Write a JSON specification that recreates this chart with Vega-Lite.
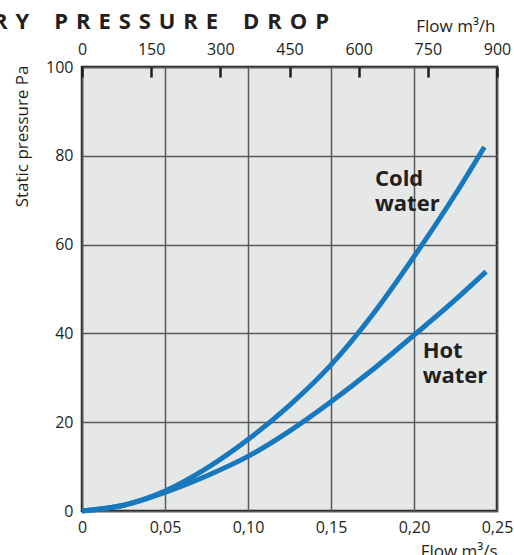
{
  "$schema": "https://vega.github.io/schema/vega-lite/v6.json",
  "width": 415,
  "height": 444,
  "autosize": {"type": "none"},
  "padding": {"left": 82, "top": 67, "right": 17, "bottom": 44},
  "background": "white",
  "config": {
    "font": "Open Sans",
    "view": {"fill": "#e6e7e7", "stroke": "#231f20", "strokeWidth": 2.5}
  },
  "title": {
    "text": "R \u200aY \u200a\u00a0\u00a0\u00a0P \u200aR \u200aE \u200aS \u200aS \u200aU \u200aR \u200aE \u200a\u00a0\u00a0\u00a0D \u200aR \u200aO \u200aP",
    "anchor": "start",
    "frame": "group",
    "dx": -89,
    "dy": 17,
    "offset": 0,
    "fontSize": 22,
    "fontWeight": "bold",
    "color": "#231f20"
  },
  "layer": [
    {
      "layer": [
        {
          "data": {
            "values": [
              {"series": "Cold water", "q": 0, "p": 0},
              {"series": "Cold water", "q": 0.025, "p": 1.3},
              {"series": "Cold water", "q": 0.05, "p": 4.5},
              {"series": "Cold water", "q": 0.075, "p": 9.6},
              {"series": "Cold water", "q": 0.1, "p": 16.1},
              {"series": "Cold water", "q": 0.125, "p": 23.8},
              {"series": "Cold water", "q": 0.15, "p": 32.9},
              {"series": "Cold water", "q": 0.175, "p": 44.2},
              {"series": "Cold water", "q": 0.2, "p": 57.3},
              {"series": "Cold water", "q": 0.225, "p": 71.4},
              {"series": "Cold water", "q": 0.2424, "p": 82},
              {"series": "Hot water", "q": 0, "p": 0},
              {"series": "Hot water", "q": 0.025, "p": 1.3},
              {"series": "Hot water", "q": 0.05, "p": 4.2},
              {"series": "Hot water", "q": 0.075, "p": 7.9},
              {"series": "Hot water", "q": 0.1, "p": 12.3},
              {"series": "Hot water", "q": 0.125, "p": 18.0},
              {"series": "Hot water", "q": 0.15, "p": 24.6},
              {"series": "Hot water", "q": 0.175, "p": 31.8},
              {"series": "Hot water", "q": 0.2, "p": 39.6},
              {"series": "Hot water", "q": 0.225, "p": 47.6},
              {"series": "Hot water", "q": 0.2434, "p": 53.9}
            ]
          },
          "mark": {"type": "line", "strokeWidth": 5, "color": "#1778bd", "interpolate": "monotone", "strokeCap": "butt"},
          "encoding": {
            "x": {
              "field": "q",
              "type": "quantitative",
              "scale": {"domain": [0, 0.25], "nice": false},
              "axis": {
                "orient": "bottom",
                "values": [0, 0.05, 0.1, 0.15, 0.2, 0.25],
                "labelExpr": "datum.value == 0 ? '0' : replace(format(datum.value, '.2f'), '.', ',')",
                "ticks": false,
                "domain": false,
                "grid": true,
                "gridColor": "#58595b",
                "gridWidth": 1.5,
                "gridOpacity": 1,
                "labelFontSize": 16,
                "labelColor": "#231f20",
                "labelPadding": 8,
                "labelFlush": false,
                "labelOverlap": false,
                "title": "Flow m³/s",
                "titleFontSize": 17,
                "titleFontWeight": "normal",
                "titleColor": "#231f20",
                "titleX": 415,
                "titleY": 45,
                "titleAlign": "right",
                "titleBaseline": "alphabetic"
              }
            },
            "y": {
              "field": "p",
              "type": "quantitative",
              "scale": {"domain": [0, 100], "nice": false},
              "axis": {
                "values": [0, 20, 40, 60, 80, 100],
                "ticks": false,
                "domain": false,
                "grid": true,
                "gridColor": "#58595b",
                "gridWidth": 1.5,
                "gridOpacity": 1,
                "labelFontSize": 16,
                "labelColor": "#231f20",
                "labelPadding": 9,
                "labelOverlap": false,
                "labelFlush": false,
                "title": "Static pressure Pa",
                "titleFontSize": 17,
                "titleFontWeight": "normal",
                "titleColor": "#231f20",
                "titleAngle": -90,
                "titleX": -60,
                "titleY": -2,
                "titleAlign": "right",
                "titleBaseline": "middle"
              }
            },
            "detail": {"field": "series"}
          }
        },
        {
          "data": {
            "values": [
              {"label": "Cold\nwater", "q": 0.1765, "p": 73.2},
              {"label": "Hot\nwater", "q": 0.2052, "p": 34.4}
            ]
          },
          "mark": {
            "type": "text",
            "align": "left",
            "baseline": "alphabetic",
            "lineBreak": "\n",
            "lineHeight": 24.7,
            "fontSize": 22,
            "fontWeight": "bold",
            "color": "#231f20"
          },
          "encoding": {
            "x": {"field": "q", "type": "quantitative"},
            "y": {"field": "p", "type": "quantitative"},
            "text": {"field": "label"}
          }
        }
      ]
    },
    {
      "mark": {"type": "rule", "opacity": 0},
      "encoding": {
        "x": {
          "datum": 0,
          "type": "quantitative",
          "scale": {"domain": [0, 900], "nice": false},
          "axis": {
            "orient": "top",
            "values": [0, 150, 300, 450, 600, 750, 900],
            "grid": false,
            "domain": false,
            "ticks": true,
            "tickSize": -10,
            "tickWidth": 2.5,
            "tickColor": "#231f20",
            "labelPadding": 20,
            "labelFontSize": 16,
            "labelColor": "#231f20",
            "labelFlush": false,
            "labelOverlap": false,
            "title": "Flow m³/h",
            "titleFontSize": 17,
            "titleFontWeight": "normal",
            "titleColor": "#231f20",
            "titleX": 413,
            "titleY": -36,
            "titleAlign": "right",
            "titleBaseline": "alphabetic"
          }
        }
      }
    }
  ],
  "resolve": {"scale": {"x": "independent"}}
}
